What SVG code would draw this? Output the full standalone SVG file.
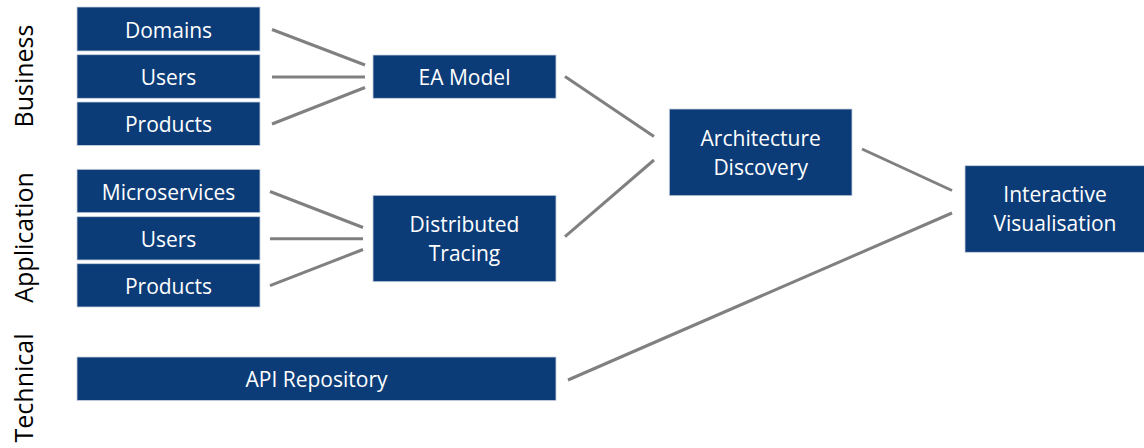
<svg xmlns="http://www.w3.org/2000/svg" width="1144" height="448" viewBox="0 0 1144 448">
<style>
.box{fill:#0b3c78;stroke:#c9d2df;stroke-width:0.8}
.t{font-family:"Open Sans","Liberation Sans",sans-serif;font-size:21px;fill:#ffffff;text-anchor:middle}
.side{font-family:"Open Sans","Liberation Sans",sans-serif;font-size:25px;fill:#000000;text-anchor:middle}
.c line{stroke:#808080;stroke-width:3;stroke-linecap:butt}
</style>
<rect width="1144" height="448" fill="#ffffff"/>
<g id="labels">
<text class="side" transform="translate(33,76) rotate(-90)">Business</text>
<text class="side" transform="translate(33,237.5) rotate(-90)">Application</text>
<text class="side" transform="translate(33,388) rotate(-90)">Technical</text>
</g>
<g class="c" id="connectors">
<line x1="272" y1="29.5" x2="365" y2="65"/>
<line x1="272" y1="77" x2="365" y2="77"/>
<line x1="272" y1="124" x2="365" y2="87.5"/>
<line x1="270" y1="191.5" x2="363" y2="227.5"/>
<line x1="270" y1="238.7" x2="363" y2="238.7"/>
<line x1="270" y1="285.7" x2="363" y2="249.5"/>
<line x1="565" y1="76.5" x2="654" y2="136.5"/>
<line x1="565" y1="236.7" x2="654" y2="160"/>
<line x1="862" y1="149" x2="952" y2="190.5"/>
<line x1="568" y1="380" x2="952" y2="213"/>
</g>
<g id="domains"><rect class="box" x="77" y="7" width="183" height="44"/><text class="t" x="168.5" y="37.5">Domains</text></g>
<g id="users-b"><rect class="box" x="77" y="54.7" width="183" height="43.6"/><text class="t" x="168.5" y="85">Users</text></g>
<g id="products-b"><rect class="box" x="77" y="102" width="183" height="43.4"/><text class="t" x="168.5" y="132.3">Products</text></g>
<g id="microservices"><rect class="box" x="77" y="169.3" width="183" height="43.4"/><text class="t" x="168.5" y="199.5">Microservices</text></g>
<g id="users-a"><rect class="box" x="77" y="216.7" width="183" height="43.3"/><text class="t" x="168.5" y="247">Users</text></g>
<g id="products-a"><rect class="box" x="77" y="263.7" width="183" height="43.3"/><text class="t" x="168.5" y="294">Products</text></g>
<g id="api-repository"><rect class="box" x="77" y="357" width="479" height="43.5"/><text class="t" x="316.5" y="387.3">API Repository</text></g>
<g id="ea-model"><rect class="box" x="373" y="55" width="183" height="43.3"/><text class="t" x="464.5" y="85">EA Model</text></g>
<g id="distributed-tracing"><rect class="box" x="373" y="195.3" width="183" height="86.4"/><text class="t" x="464.5" y="231.7">Distributed</text><text class="t" x="464.5" y="261">Tracing</text></g>
<g id="architecture-discovery"><rect class="box" x="669.3" y="109" width="182.7" height="86.7"/><text class="t" x="760.7" y="145.7">Architecture</text><text class="t" x="760.7" y="175">Discovery</text></g>
<g id="interactive-visualisation"><rect class="box" x="965" y="165.7" width="180" height="86.6"/><text class="t" x="1055" y="201.7">Interactive</text><text class="t" x="1055" y="231">Visualisation</text></g>
</svg>
